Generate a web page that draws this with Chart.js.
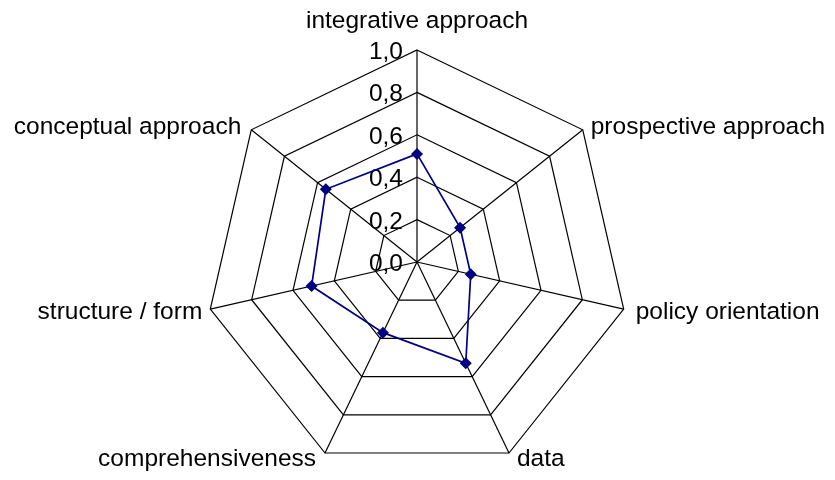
<!DOCTYPE html>
<html>
<head>
<meta charset="utf-8">
<script src="https://cdn.jsdelivr.net/npm/chart.js@4/dist/chart.umd.min.js"></script>
<style>
  html, body { margin: 0; padding: 0; background: #fff; }
  canvas { display: block; }
</style>
</head>
<body>
<canvas id="chart" width="835" height="480"></canvas>
<script>
const categories = [
  "integrative approach",
  "prospective approach",
  "policy orientation",
  "data",
  "comprehensiveness",
  "structure / form",
  "conceptual approach"
];
const scores = [0.51, 0.26, 0.26, 0.53, 0.37, 0.51, 0.55];
const tickValues = [0, 0.2, 0.4, 0.6, 0.8, 1.0];
const tickLabels = ["0,0", "0,2", "0,4", "0,6", "0,8", "1,0"];

const FONT = "24.5px 'Liberation Sans', Arial, sans-serif";

// Excel-like label placement around the outer ring
const labelOffsets = [[0, -22], [8, 4], [12, 10], [8, 13], [-9, 13], [-8, 10], [-10, 4]];

const excelLabels = {
  id: "excelLabels",
  beforeDatasetsDraw(chart) {
    const scale = chart.scales.r;
    const ctx = chart.ctx;
    ctx.save();
    ctx.font = FONT;
    ctx.fillStyle = "#000";
    ctx.textAlign = "right";
    ctx.textBaseline = "alphabetic";
    tickValues.forEach((v, i) => {
      const d = scale.getDistanceFromCenterForValue(v);
      ctx.fillText(tickLabels[i], scale.xCenter - 14, scale.yCenter - d + 9);
    });
    ctx.restore();
  },
  afterDraw(chart) {
    const scale = chart.scales.r;
    const ctx = chart.ctx;
    ctx.save();
    ctx.font = FONT;
    ctx.fillStyle = "#000";
    ctx.textBaseline = "alphabetic";
    categories.forEach((label, i) => {
      const p = scale.getPointPosition(i, scale.drawingArea);
      const [dx, dy] = labelOffsets[i];
      ctx.textAlign = dx === 0 ? "center" : dx > 0 ? "left" : "right";
      ctx.fillText(label, p.x + dx, p.y + dy);
    });
    ctx.restore();
  }
};

new Chart(document.getElementById("chart"), {
  type: "radar",
  data: {
    labels: categories,
    datasets: [{
      data: scores,
      borderColor: "#000080",
      backgroundColor: "transparent",
      borderWidth: 1.7,
      pointStyle: "rectRot",
      pointRadius: 6,
      pointBackgroundColor: "#000080",
      pointBorderColor: "#000080",
      pointBorderWidth: 0,
      fill: false,
      tension: 0
    }]
  },
  options: {
    responsive: false,
    animation: false,
    layout: { padding: { top: 50, bottom: 6, left: 0, right: 0 } },
    plugins: {
      legend: { display: false },
      tooltip: { enabled: false }
    },
    scales: {
      r: {
        min: 0,
        max: 1,
        ticks: { stepSize: 0.2, display: false },
        grid: { color: "#000", lineWidth: 1.2 },
        angleLines: { color: "#000", lineWidth: 1.2 },
        pointLabels: { display: false }
      }
    }
  },
  plugins: [excelLabels]
});
</script>
</body>
</html>
